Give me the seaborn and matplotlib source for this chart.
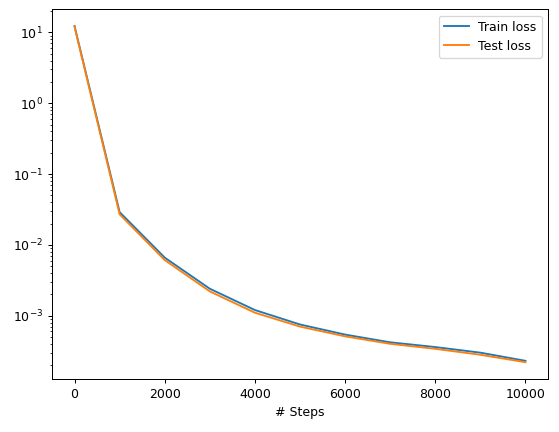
import pandas as pd
import matplotlib
matplotlib.use('Agg')
import matplotlib.pyplot as plt
import seaborn as sns

# loss history
steps = [0, 1000, 2000, 3000, 4000, 5000, 6000, 7000, 8000, 9000, 10000]
train_loss = [12.3, 0.029, 0.0066, 0.0024, 0.0012, 0.00075, 0.00054, 0.00042, 0.00036, 0.00030, 0.00023]
test_loss = [12.0, 0.027, 0.0061, 0.0022, 0.0011, 0.00070, 0.00051, 0.00040, 0.00034, 0.00028, 0.00022]

data = pd.DataFrame({'steps': steps * 2,
                     'loss': train_loss + test_loss,
                     'label': ['Train loss'] * len(steps) + ['Test loss'] * len(steps)})

fig = plt.figure(figsize=(559 / 90, 432 / 90), dpi=90)
ax = fig.add_axes([52 / 559, 1 - 379 / 432, (548 - 52) / 559, (379 - 9.3) / 432])
sns.lineplot(data=data, x='steps', y='loss', hue='label', palette=['#1f77b4', '#ff7f0e'], ax=ax)
ax.set_yscale('log')
ax.set_xlabel('# Steps')
ax.set_ylabel('')
ax.legend(title=None)
fig.savefig('out.png', dpi=90)
